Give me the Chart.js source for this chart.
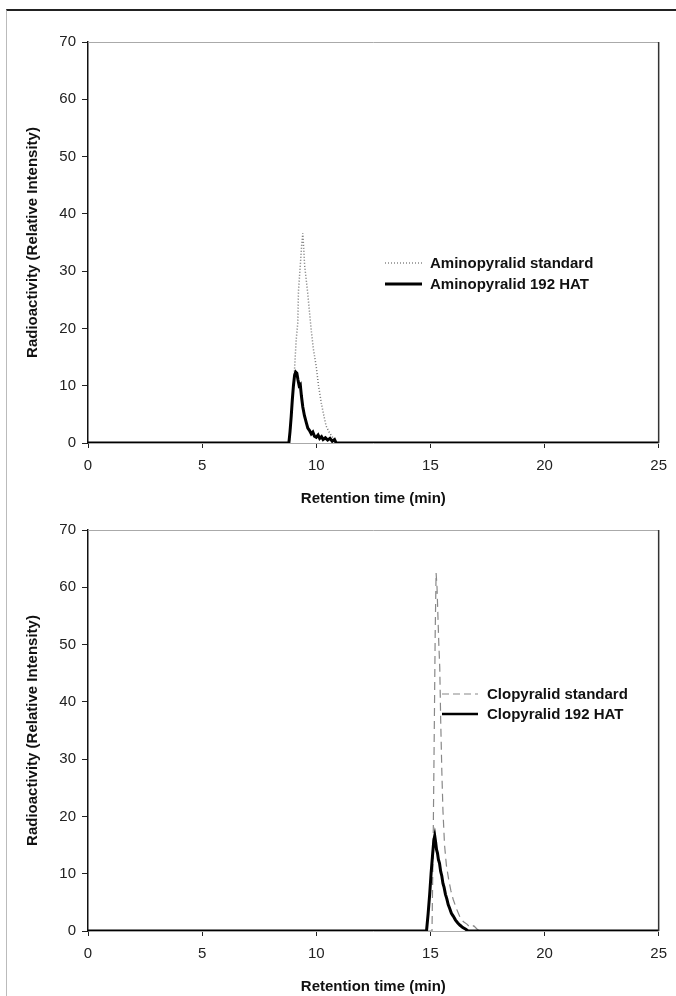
<!DOCTYPE html>
<html>
<head>
<meta charset="utf-8">
<script src="https://cdn.jsdelivr.net/npm/chart.js@4"></script>
<style>
  body { margin: 0; background: #fff; }
  #page { position: relative; width: 676px; height: 996px; overflow: hidden; }
  #frame { position: absolute; left: 6px; top: 9px; width: 680px; height: 1000px;
           border-top: 2px solid #222; border-left: 1px solid #bbb; }
  canvas { position: absolute; left: 0; }
</style>
</head>
<body>
<div id="page">
  <div id="frame"></div>
  <canvas id="chart-top" width="676" height="508" style="top:0"></canvas>
  <canvas id="chart-bottom" width="676" height="508" style="top:488px"></canvas>
</div>
<script>
// 축 눈금
const xTicks = [0, 5, 10, 15, 20, 25];
const yTicks = [0, 10, 20, 30, 40, 50, 60, 70];

// Aminopyralid standard (점선)
const aminoStdTime = [0, 8.82, 8.9, 8.97, 9.05, 9.12, 9.19, 9.22, 9.3, 9.36, 9.41, 9.45, 9.49, 9.56, 9.63, 9.7, 9.78, 9.87, 10.0, 10.1, 10.22, 10.32, 10.43, 10.55, 10.68, 10.8, 10.9, 25];
const aminoStdValue = [0, 0, 4, 8.5, 13, 18, 21, 26.5, 31, 34.5, 36.6, 34, 31, 28.5, 26, 23, 19.7, 16.5, 13.3, 10, 7, 5, 3, 2, 1.2, 0.5, 0, 0];

// Aminopyralid 192 HAT (굵은 실선)
const aminoHatTime = [0, 8.8, 8.85, 8.9, 8.95, 9.0, 9.05, 9.1, 9.15, 9.2, 9.25, 9.3, 9.35, 9.41, 9.48, 9.56, 9.63, 9.7, 9.78, 9.85, 9.92, 10.0, 10.08, 10.15, 10.23, 10.3, 10.4, 10.5, 10.6, 10.7, 10.8, 10.87, 25];
const aminoHatValue = [0, 0, 2, 4.5, 7.5, 10, 11.8, 12.4, 12.2, 11, 10, 10.2, 8.2, 6.3, 4.8, 3.6, 2.6, 2.2, 1.6, 1.9, 1.2, 1.0, 1.4, 0.8, 1.1, 0.6, 0.9, 0.5, 0.8, 0.3, 0.6, 0, 0];

// Clopyralid standard (파선)
const clopyStdTime = [0, 15.07, 15.12, 15.17, 15.21, 15.25, 15.29, 15.33, 15.37, 15.41, 15.45, 15.5, 15.55, 15.62, 15.7, 15.8, 15.9, 16.0, 16.15, 16.3, 16.45, 16.6, 16.75, 16.9, 17.05, 17.15, 25];
const clopyStdValue = [0, 0, 15, 35, 52, 62.5, 60, 55, 50, 46, 37, 28, 21, 15, 11.5, 9, 7, 5.5, 3.8, 2.4, 1.6, 1.2, 0.6, 0.9, 0.3, 0, 0];

// Clopyralid 192 HAT (굵은 실선)
const clopyHatTime = [0, 14.83, 14.9, 14.97, 15.03, 15.1, 15.15, 15.19, 15.23, 15.27, 15.31, 15.35, 15.4, 15.45, 15.5, 15.55, 15.6, 15.66, 15.72, 15.78, 15.85, 15.92, 16.0, 16.1, 16.2, 16.3, 16.42, 16.55, 16.65, 25];
const clopyHatValue = [0, 0, 3, 6.5, 10, 13.5, 15.8, 16.6, 15.5, 14.2, 13.6, 12.5, 11.8, 10.4, 9.6, 8.3, 7.6, 6.4, 5.6, 4.6, 3.9, 3.1, 2.6, 1.9, 1.4, 1.0, 0.6, 0.3, 0, 0];

const FONT = '"Liberation Sans", Arial, sans-serif';
Chart.defaults.font.family = FONT;
Chart.defaults.color = '#222';

function toPoints(times, values) {
    return times.map((t, i) => ({ x: t, y: values[i] }));
}

// 플롯 박스 위/오른쪽 테두리
const boxPlugin = {
    id: 'box',
    afterDraw(chart) {
        const { ctx, chartArea: a } = chart;
        ctx.save();
        ctx.lineWidth = 1;
        ctx.strokeStyle = '#aaa';
        ctx.beginPath();
        ctx.moveTo(a.left, a.top + 0.5);
        ctx.lineTo(a.right, a.top + 0.5);
        ctx.stroke();
        ctx.strokeStyle = '#333';
        ctx.lineWidth = 1.5;
        ctx.beginPath();
        ctx.moveTo(a.right, a.top);
        ctx.lineTo(a.right, a.bottom);
        ctx.stroke();
        ctx.restore();
    }
};

// 범례 (그림 안쪽에 직접 그림)
const legendPlugin = {
    id: 'innerLegend',
    afterDraw(chart, args, opts) {
        const ctx = chart.ctx;
        ctx.save();
        ctx.font = 'bold 15px ' + FONT;
        ctx.textBaseline = 'middle';
        opts.items.forEach((item, i) => {
            const y = opts.y + i * opts.gap;
            ctx.strokeStyle = item.color;
            ctx.lineWidth = item.width;
            ctx.setLineDash(item.dash);
            ctx.beginPath();
            ctx.moveTo(opts.x1, y);
            ctx.lineTo(opts.x2, y);
            ctx.stroke();
            ctx.setLineDash([]);
            ctx.fillStyle = '#111';
            ctx.fillText(item.label, opts.textX, y + 1);
        });
        ctx.restore();
    }
};

function makeChart(id, datasets, legend) {
    const ctx = document.getElementById(id).getContext('2d');
    return new Chart(ctx, {
        type: 'line',
        data: { datasets: datasets },
        options: {
            responsive: false,
            animation: false,
            layout: { padding: { top: 42, right: 16, left: 0, bottom: 0 } },
            elements: { point: { radius: 0 }, line: { tension: 0 } },
            scales: {
                x: {
                    type: 'linear',
                    min: 0, max: 25,
                    afterBuildTicks: s => { s.ticks = xTicks.map(v => ({ value: v })); },
                    afterFit: s => { s.height = 65; },
                    grid: { drawOnChartArea: false, drawTicks: true, tickLength: 5, color: '#222' },
                    border: { display: true, color: '#aaa', width: 1 },
                    ticks: { padding: 9, font: { size: 15 }, maxRotation: 0 },
                    title: { display: true, text: 'Retention time (min)', font: { size: 15, weight: 'bold' }, padding: { top: 0, bottom: 0 }, color: '#111' }
                },
                y: {
                    min: 0, max: 70,
                    afterBuildTicks: s => { s.ticks = yTicks.map(v => ({ value: v })); },
                    afterFit: s => { s.width = 88; },
                    grid: { drawOnChartArea: false, drawTicks: true, tickLength: 6, color: '#222' },
                    border: { display: true, color: '#111', width: 1.5 },
                    ticks: { padding: 6, font: { size: 15 } },
                    title: { display: true, text: 'Radioactivity (Relative Intensity)', font: { size: 15, weight: 'bold' }, padding: { top: 24, bottom: 0 }, color: '#111' }
                }
            },
            plugins: {
                legend: { display: false },
                tooltip: { enabled: false },
                innerLegend: legend
            }
        },
        plugins: [boxPlugin, legendPlugin]
    });
}

// 위 그래프: Aminopyralid
makeChart('chart-top', [
    { label: 'Aminopyralid 192 HAT', data: toPoints(aminoHatTime, aminoHatValue), borderColor: '#000', borderWidth: 3, order: 0 },
    { label: 'Aminopyralid standard', data: toPoints(aminoStdTime, aminoStdValue), borderColor: '#777', borderWidth: 1.5, borderDash: [1, 2], order: 1 }
], {
    x1: 385, x2: 422, textX: 430, y: 263, gap: 21,
    items: [
        { label: 'Aminopyralid standard', color: '#888', width: 1.5, dash: [1, 2] },
        { label: 'Aminopyralid 192 HAT', color: '#000', width: 3, dash: [] }
    ]
});

// 아래 그래프: Clopyralid
makeChart('chart-bottom', [
    { label: 'Clopyralid 192 HAT', data: toPoints(clopyHatTime, clopyHatValue), borderColor: '#000', borderWidth: 3, order: 0 },
    { label: 'Clopyralid standard', data: toPoints(clopyStdTime, clopyStdValue), borderColor: '#888', borderWidth: 1.2, borderDash: [8, 5], order: 1 }
], {
    x1: 442, x2: 478, textX: 487, y: 206, gap: 20,
    items: [
        { label: 'Clopyralid standard', color: '#888', width: 1.2, dash: [7, 4] },
        { label: 'Clopyralid 192 HAT', color: '#000', width: 2.5, dash: [] }
    ]
});
</script>
</body>
</html>
